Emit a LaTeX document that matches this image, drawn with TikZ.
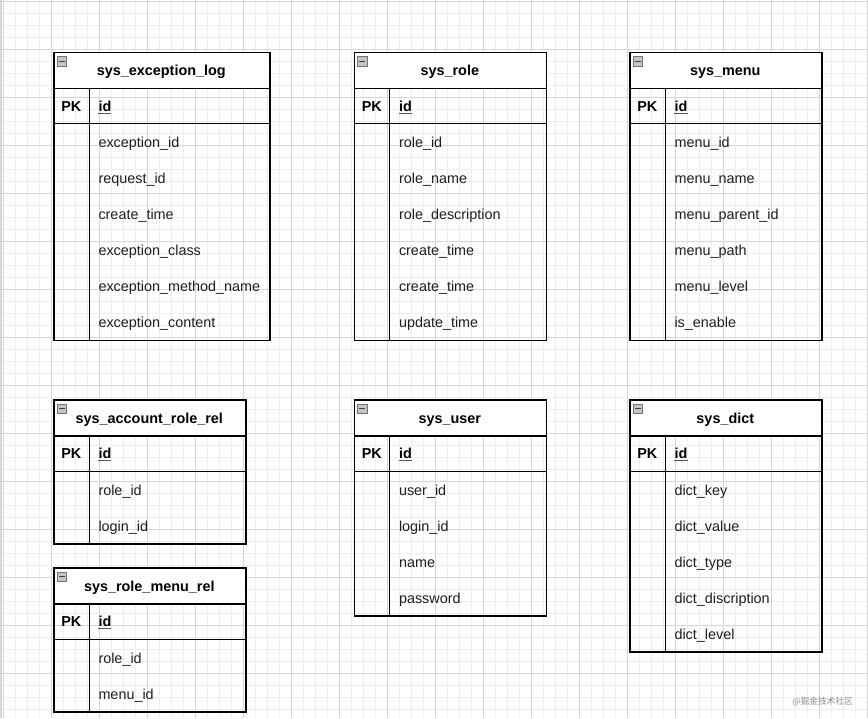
\documentclass[tikz,border=0pt]{standalone}
\usepackage{fontspec}
\setmainfont{Liberation Sans}
\newfontfamily\cjk{Noto Sans CJK SC}
\definecolor{gridminor}{HTML}{EEEEEE}
\definecolor{gridmajor}{HTML}{D6D6D6}
\definecolor{iconfill}{HTML}{C4C4C4}
\definecolor{wmgray}{HTML}{8C8C8C}
\tikzset{
  gridminorline/.style={draw=gridminor, line width=0.9pt},
  gridmajorline/.style={draw=gridmajor, line width=0.9pt},
  tabline/.style={draw=black, line width=1.25pt},
  outerbox/.style={rectangle, draw=black, line width=1.25pt, inner sep=0pt, anchor=north west},
  hdrbox/.style={rectangle, draw=black, line width=1.25pt, fill=white, inner sep=0pt, minimum height=36pt, anchor=north west},
  titletext/.style={font=\fontsize{14.4}{17}\selectfont\bfseries, inner sep=0pt, anchor=base, text=black},
  idtext/.style={font=\fontsize{14.4}{17}\selectfont\bfseries, inner sep=0pt, anchor=base west, text=black},
  fieldtext/.style={font=\fontsize{14.4}{17}\selectfont, inner sep=0pt, anchor=base west, text=black!88},
  iconbox/.style={rectangle, draw=black!55, fill=iconfill, line width=0.8pt, minimum size=9.5pt, inner sep=0pt},
  iconline/.style={draw=black!75, line width=1.3pt},
  idunder/.style={draw=black!65, line width=1pt},
}
% #1 name, #2 x, #3 y, #4 width, #5 title, #6 fields, #7 number of fields
\newcommand\ertable[7]{%
  \pgfmathsetmacro\tabh{36*(#7+2)}%
  \node[outerbox, minimum width=#4pt, minimum height=\tabh pt] (#1) at (#2,#3) {};
  \node[hdrbox, minimum width=#4pt] (#1-hdr) at (#2,#3) {};
  \node[titletext] (#1-title) at (#2+#4/2,#3+24) {#5};
  \node[iconbox] (#1-icon) at (#2+8.5,#3+9.5) {};
  \draw[iconline] ([xshift=2pt]#1-icon.west) -- ([xshift=-2pt]#1-icon.east);
  \draw[tabline] (#2,#3+72) -- (#2+#4,#3+72);
  \draw[tabline] (#2+36,#3+36) -- (#2+36,#3+\tabh);
  \node[titletext] (#1-pk) at (#2+18,#3+59.5) {PK};
  \node[idtext] (#1-id) at (#2+45,#3+59.5) {id};
  \draw[idunder] ([yshift=-2pt]#1-id.base west) -- ([yshift=-2pt]#1-id.base east);
  \foreach \f [count=\i] in {#6} {
    \node[fieldtext] (#1-f\i) at (#2+45,#3+36*\i+60) {\f};
  }
}
\begin{document}
\begin{tikzpicture}[x=1pt,y=-1pt]
\useasboundingbox (0,0) rectangle (868,718);
\fill[white] (0,0) rectangle (868,718);
% grid
\foreach \i in {0,...,72} {
  \pgfmathsetmacro\gx{3.7+12*\i}
  \draw[gridminorline] (\gx,0) -- (\gx,718);
}
\foreach \j in {0,...,59} {
  \pgfmathsetmacro\gy{1.3+12*\j}
  \draw[gridminorline] (0,\gy) -- (868,\gy);
}
\foreach \i in {0,...,18} {
  \pgfmathsetmacro\gx{3.7+48*\i}
  \draw[gridmajorline] (\gx,0) -- (\gx,718);
}
\foreach \j in {0,...,14} {
  \pgfmathsetmacro\gy{1.3+48*\j}
  \draw[gridmajorline] (0,\gy) -- (868,\gy);
}
\fill[gridmajor] (0,0) rectangle (2,718);
% tables
\ertable{exc}{53.3}{51.7}{216}{sys\_exception\_log}{exception\_id,request\_id,create\_time,exception\_class,exception\_method\_name,exception\_content}{6}
\ertable{role}{353.8}{51.7}{192}{sys\_role}{role\_id,role\_name,role\_description,create\_time,create\_time,update\_time}{6}
\ertable{menu}{629.3}{51.7}{192}{sys\_menu}{menu\_id,menu\_name,menu\_parent\_id,menu\_path,menu\_level,is\_enable}{6}
\ertable{acc}{53.3}{399.3}{192}{sys\_account\_role\_rel}{role\_id,login\_id}{2}
\ertable{rmr}{53.3}{567.3}{192}{sys\_role\_menu\_rel}{role\_id,menu\_id}{2}
\ertable{user}{353.8}{399.3}{192}{sys\_user}{user\_id,login\_id,name,password}{4}
\ertable{dict}{629.3}{399.3}{192}{sys\_dict}{dict\_key,dict\_value,dict\_type,dict\_discription,dict\_level}{5}
% watermark
\node[font=\cjk\fontsize{8.7}{10}\selectfont, text=wmgray, inner sep=0pt, anchor=east] (wm) at (853,701.5) {@掘金技术社区};
\end{tikzpicture}
\end{document}
